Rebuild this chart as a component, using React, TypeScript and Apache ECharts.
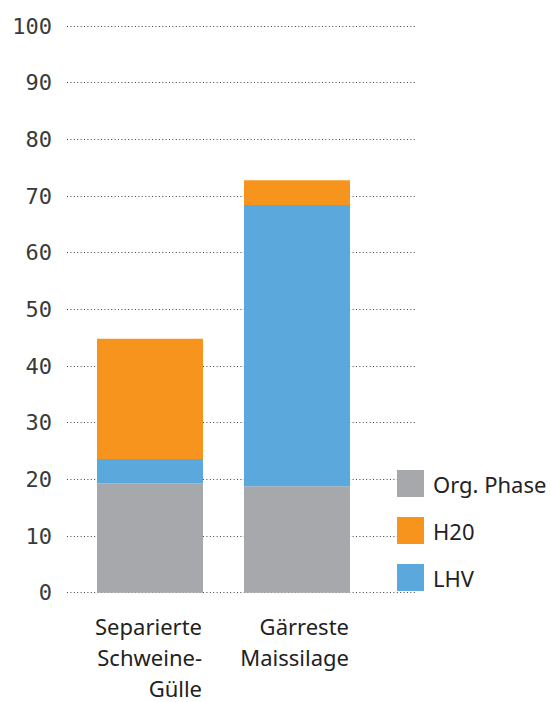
import React, { useEffect, useRef } from "react";
import * as echarts from "echarts";

const categories = ["Separierte\nSchweine-\nGülle", "Gärreste\nMaissilage"];
const orgPhase = [19.3, 18.8];
const lhv = [4.3, 49.6];
const h20 = [21.2, 4.4];
const legendOrder = ["Org. Phase", "H20", "LHV"];

const GRAY = "#A7A8AB";
const ORANGE = "#F7941D";
const BLUE = "#5BA8DC";

export default function App() {
  const ref = useRef<HTMLDivElement>(null);
  useEffect(() => {
    if (!ref.current) return;
    const chart = echarts.init(ref.current, null, { renderer: "svg" });
    const sans = "'Noto Sans', sans-serif";
    chart.setOption({
      animation: false,
      legend: {
        orient: "vertical",
        left: 397,
        top: 470,
        itemWidth: 27,
        itemHeight: 27,
        itemGap: 20,
        icon: "rect",
        padding: 0,
        data: legendOrder,
        textStyle: { fontSize: 22, color: "#222", fontFamily: sans, padding: [0, 0, 0, 4] },
      },
      grid: [
        { left: 67, right: 135, top: 26, bottom: 109.3 },
        { left: 76.5, right: 180.5, top: 26, bottom: 109.3 },
      ],
      xAxis: [
        { type: "value", gridIndex: 0, show: false, min: 0, max: 1 },
        {
          type: "category",
          gridIndex: 1,
          data: categories,
          axisLine: { show: false },
          axisTick: { show: false },
          axisLabel: {
            margin: 18,
            width: 104,
            overflow: "none",
            align: "center",
            formatter: (v: string) =>
              v.split("\n").map((l) => `{r|${l}}`).join("\n"),
            rich: {
              r: {
                align: "right",
                fontSize: 22,
                lineHeight: 31,
                color: "#222",
                fontFamily: sans,
              },
            },
          },
        },
      ],
      yAxis: [
        {
          type: "value",
          gridIndex: 0,
          min: 0,
          max: 100,
          interval: 10,
          axisLine: { show: false },
          axisTick: { show: false },
          axisLabel: {
            margin: 15,
            fontSize: 22,
            color: "#3a3a3a",
            fontFamily: "'DejaVu Sans Mono', monospace",
          },
          splitLine: {
            lineStyle: { type: [1, 2.4], color: "#444", width: 1 },
          },
        },
        {
          type: "value",
          gridIndex: 1,
          min: 0,
          max: 100,
          interval: 10,
          show: false,
          splitLine: { show: false },
        },
      ],
      series: [
        {
          name: "Org. Phase",
          type: "bar",
          stack: "a",
          xAxisIndex: 1,
          yAxisIndex: 1,
          barWidth: 106,
          itemStyle: { color: GRAY },
          data: orgPhase,
        },
        {
          name: "LHV",
          type: "bar",
          stack: "a",
          xAxisIndex: 1,
          yAxisIndex: 1,
          barWidth: 106,
          itemStyle: { color: BLUE },
          data: lhv,
        },
        {
          name: "H20",
          type: "bar",
          stack: "a",
          xAxisIndex: 1,
          yAxisIndex: 1,
          barWidth: 106,
          itemStyle: { color: ORANGE },
          data: h20,
        },
      ],
    });
    return () => chart.dispose();
  }, []);
  return <div ref={ref} style={{ width: 551, height: 702, position: "absolute", left: 0, top: 0 }} />;
}
